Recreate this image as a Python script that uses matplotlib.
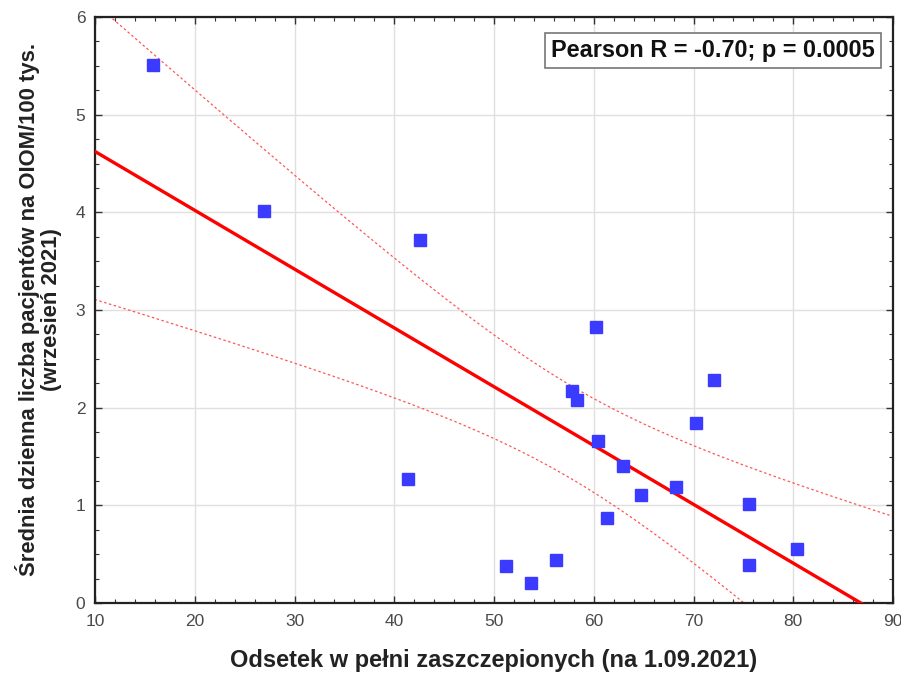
import numpy as np
import matplotlib
matplotlib.use("Agg")
import matplotlib.pyplot as plt
from matplotlib.ticker import MultipleLocator

x_vals = [15.8, 26.95, 42.6, 41.4, 60.25, 57.8, 58.3, 60.45, 62.9, 64.7,
          61.3, 68.2, 70.3, 72.1, 75.6, 75.6, 80.4, 51.2, 53.7, 56.2]
y_vals = [5.51, 4.01, 3.72, 1.27, 2.83, 2.17, 2.08, 1.66, 1.40, 1.11,
          0.87, 1.19, 1.84, 2.28, 1.01, 0.39, 0.55, 0.38, 0.20, 0.44]
x_ticks = [10, 20, 30, 40, 50, 60, 70, 80, 90]
y_ticks = [0, 1, 2, 3, 4, 5, 6]
annotation = "Pearson R = -0.70; p = 0.0005"
x_label = "Odsetek w pełni zaszczepionych (na 1.09.2021)"
y_label = "Średnia dzienna liczba pacjentów na OIOM/100 tys.\n(wrzesień 2021)"
t_crit = 2.101  # t(0.975, df=18)

plt.rcParams['font.family'] = ['Liberation Sans', 'DejaVu Sans']

x = np.array(x_vals)
y = np.array(y_vals)
n = len(x)
b, a = np.polyfit(x, y, 1)
resid = y - (a + b * x)
s = np.sqrt(np.sum(resid ** 2) / (n - 2))
xm = x.mean()
sxx = np.sum((x - xm) ** 2)
xs = np.linspace(0, 100, 400)
yfit = a + b * xs
se = s * np.sqrt(1.0 / n + (xs - xm) ** 2 / sxx)

fig = plt.figure(figsize=(9.01, 6.73), dpi=100)
ax = fig.add_axes([95 / 901, 70 / 673, 798 / 901, 586 / 673])

ax.plot(xs, yfit + t_crit * se, color='#ff5555', lw=0.9, ls=(0, (2, 2)), zorder=2)
ax.plot(xs, yfit - t_crit * se, color='#ff5555', lw=0.9, ls=(0, (2, 2)), zorder=2)
ax.plot(xs, yfit, color='#ff0000', lw=2.4, zorder=3)
ax.plot(x, y, ls='none', marker='s', ms=9, color='#3b3bff', mec='#3b3bff', zorder=4)

ax.set_xlim(10, 90)
ax.set_ylim(0, 6)
ax.set_xticks(x_ticks)
ax.set_yticks(y_ticks)
ax.xaxis.set_minor_locator(MultipleLocator(2))
ax.yaxis.set_minor_locator(MultipleLocator(0.25))
ax.grid(True, which='major', color='#e0e0e0', lw=1.0)
ax.set_axisbelow(True)
ax.tick_params(which='both', direction='in', top=True, right=True,
               colors='#333333', labelcolor='#4a4a4a', labelsize=12.5)
ax.tick_params(which='major', length=5, width=1)
ax.tick_params(which='minor', length=3, width=0.8)
ax.tick_params(axis='x', pad=8)
ax.tick_params(axis='y', pad=7)
for sp in ax.spines.values():
    sp.set_color('#222222')
    sp.set_linewidth(1.6)

ax.set_xlabel(x_label, fontsize=17, fontweight='bold', color='#222222', labelpad=14)
ax.set_ylabel(y_label, fontsize=15.8, fontweight='bold', color='#222222', labelpad=10,
              linespacing=1.05)

ax.text(0.977, 0.962, annotation, transform=ax.transAxes, ha='right', va='top',
        fontsize=16.9, fontweight='bold', color='#111111',
        bbox=dict(boxstyle='square,pad=0.25', fc='white', ec='#777777', lw=1.2))

fig.savefig('out.png', dpi=100)
